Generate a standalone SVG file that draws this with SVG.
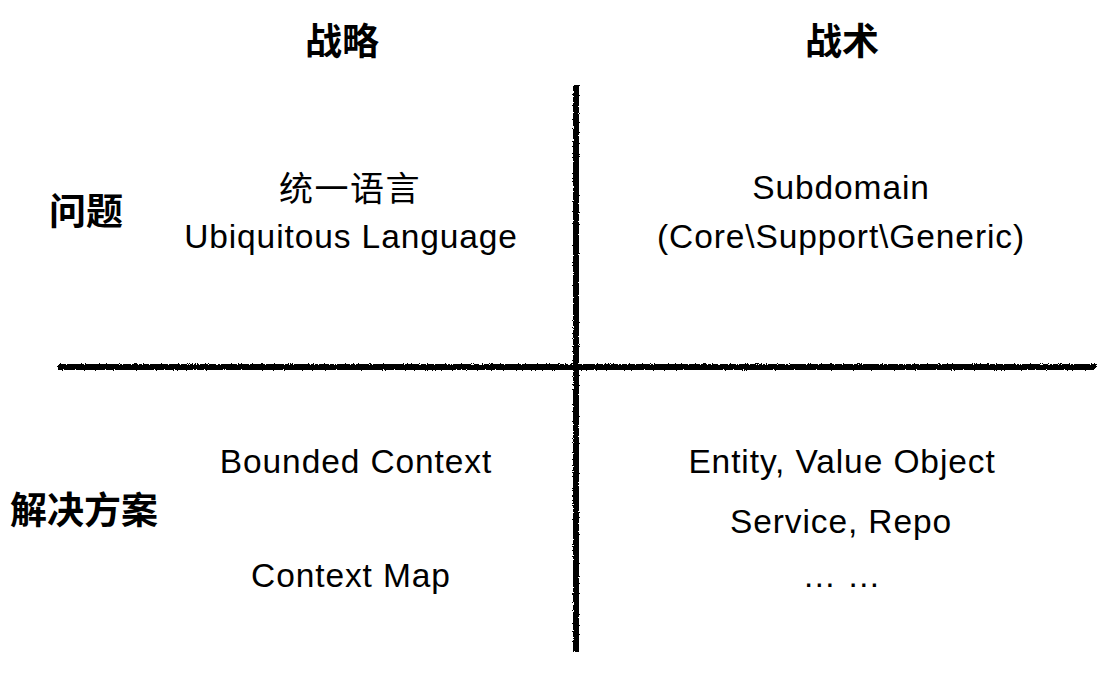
<svg xmlns="http://www.w3.org/2000/svg" width="1112" height="674" viewBox="0 0 1112 674">
  <defs>
    <filter id="rough" x="-5%" y="-5%" width="110%" height="110%">
      <feTurbulence type="fractalNoise" baseFrequency="0.9" numOctaves="2" seed="3" result="n"/>
      <feDisplacementMap in="SourceGraphic" in2="n" scale="3" xChannelSelector="R" yChannelSelector="G"/>
    </filter>
    <style>
      .head { font-family: "Noto Sans CJK SC", "Liberation Sans", sans-serif; font-weight: bold; font-size: 37px; fill: #000; text-anchor: middle; }
      .cell { font-family: "Liberation Sans", "Noto Sans CJK SC", sans-serif; font-size: 33.5px; letter-spacing: 0.9px; fill: #000; text-anchor: middle; }
      .cjk { font-family: "Noto Sans CJK SC", sans-serif; font-size: 34px; letter-spacing: 1.5px; fill: #000; text-anchor: middle; }
      .axis { stroke: #000; stroke-width: 6; fill: none; }
    </style>
  </defs>
  <rect width="1112" height="674" fill="#fff"/>
  <g id="connectors" filter="url(#rough)">
    <line class="axis" x1="58" y1="367" x2="1096" y2="367"/>
    <line class="axis" x1="576" y1="85" x2="576" y2="652"/>
  </g>
  <g id="header-strategy"><text class="head" x="342" y="55">战略</text></g>
  <g id="header-tactics"><text class="head" x="842" y="55">战术</text></g>
  <g id="row-problem"><text class="head" x="86" y="225">问题</text></g>
  <g id="row-solution"><text class="head" x="84" y="524">解决方案</text></g>
  <g id="ubiquitous-language">
    <text class="cjk" x="350" y="201">统一语言</text>
    <text class="cell" x="351" y="248">Ubiquitous Language</text>
  </g>
  <g id="subdomain">
    <text class="cell" x="841" y="199">Subdomain</text>
    <text class="cell" x="841" y="248">(Core\Support\Generic)</text>
  </g>
  <g id="bounded-context"><text class="cell" x="356" y="473">Bounded Context</text></g>
  <g id="context-map"><text class="cell" x="351" y="587">Context Map</text></g>
  <g id="tactical-solutions">
    <text class="cell" x="842" y="473">Entity, Value Object</text>
    <text class="cell" x="841" y="533">Service, Repo</text>
    <text class="cell" x="842" y="587">… …</text>
  </g>
</svg>
